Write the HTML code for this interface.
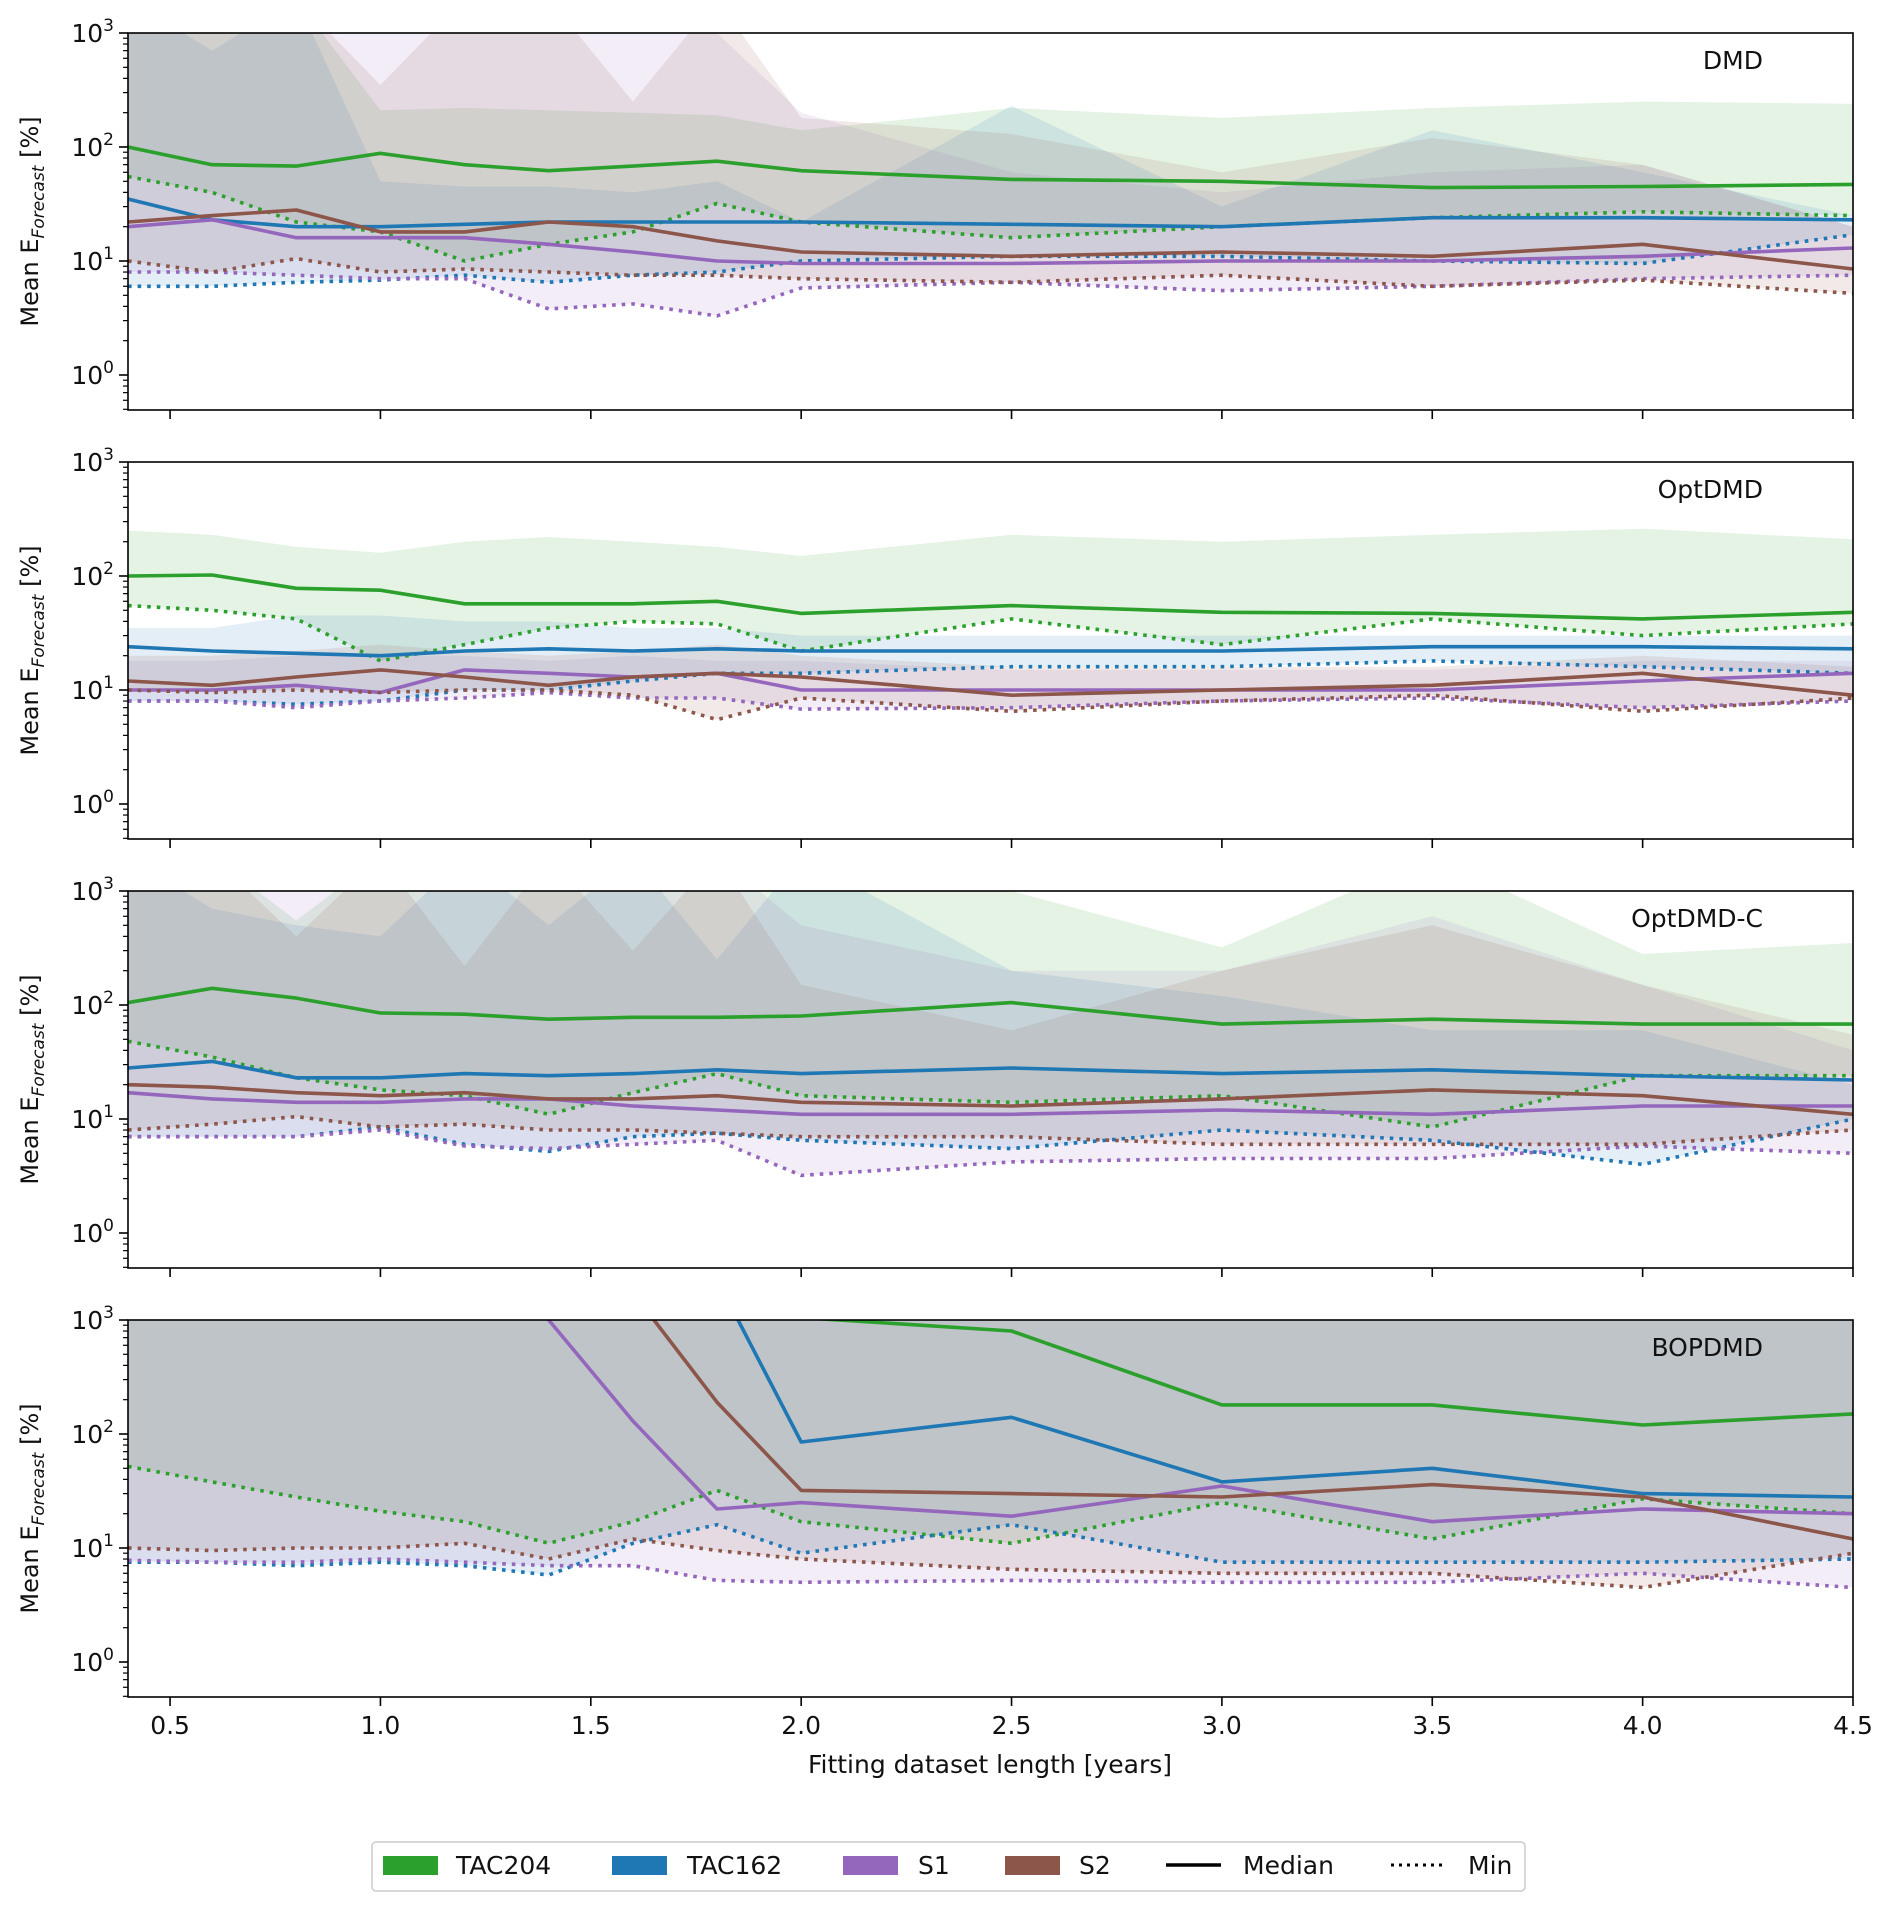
<!DOCTYPE html>
<html><head><meta charset="utf-8">
<style>
html,body{margin:0;padding:0;background:#fff;}
svg{display:block;font-family:"DejaVu Sans","Liberation Sans",sans-serif;}
</style></head>
<body>
<svg id="chart" width="1892" height="1922" viewBox="0 0 1892 1922" xmlns="http://www.w3.org/2000/svg"></svg>
<script>
const xValues = [0.4,0.6,0.8,1.0,1.2,1.4,1.6,1.8,2.0,2.5,3.0,3.5,4.0,4.5];
const xTicks = [0.5,1.0,1.5,2.0,2.5,3.0,3.5,4.0,4.5];
const xTickLabels = ["0.5","1.0","1.5","2.0","2.5","3.0","3.5","4.0","4.5"];
const yTickExps = [0,1,2,3];
const panelNames = ["DMD","OptDMD","OptDMD-C","BOPDMD"];
const seriesNames = ["TAC204","TAC162","S1","S2"];
const seriesColors = ["#2ca02c","#1f77b4","#9467bd","#8c564b"];

// DMD
const dmdMedian = [
 [100,70,68,88,70,62,68,75,62,52,50,44,45,47],
 [35,23,20,20,21,22,22,22,22,21,20,24,24,23],
 [20,23,16,16,16,14,12,10,9.5,9.5,10,10,11,13],
 [22,25,28,18,18,22,20,15,12,11,12,11,14,8.5]];
const dmdMin = [
 [55,40,22,18,10,14,18,32,22,16,20,24,27,25],
 [6,6,6.5,6.8,7.5,6.5,7.5,8,10,11,11,10,9.5,17],
 [8,8,7.5,7,7,3.8,4.2,3.3,5.8,6.5,5.5,6,7,7.5],
 [10,8,10.5,8,8.5,8,7.5,7.5,7,6.5,7.5,6,6.8,5.2]];
const dmdMax = [
 [2000,2000,2000,210,220,210,200,190,140,220,180,220,250,240],
 [2000,700,2000,50,45,45,40,50,22,230,30,140,60,25],
 [2000,2000,2000,2000,2000,2000,2000,1000,200,60,40,60,70,20],
 [2000,2000,2000,350,2000,2000,250,2000,180,130,60,120,70,20]];
// OptDMD
const optMedian = [
 [100,102,78,75,57,57,57,60,47,55,48,47,42,48],
 [24,22,21,20,22,23,22,23,22,22,22,24,24,23],
 [10,10,11,9.5,15,14,13,14,10,10,10,10,12,14],
 [12,11,13,15,13,11,13,14,13,9,10,11,14,9]];
const optMin = [
 [55,50,42,18,25,35,40,38,22,42,25,42,30,38],
 [8,8,7.5,8,10,10,12,14,14,16,16,18,16,14],
 [8,8,7,8,8.5,9.5,8.5,8.5,6.8,7,8,8.5,7,8],
 [10,9.5,10,9.5,10,10,9,5.5,8.5,6.5,8,9,6.5,8.5]];
const optMax = [
 [250,230,180,160,200,220,200,180,150,230,200,230,260,210],
 [35,35,45,45,40,40,35,35,30,30,30,30,30,30],
 [18,18,20,20,20,18,20,18,18,15,15,15,18,18],
 [20,20,22,25,22,20,22,25,20,16,16,16,20,16]];
// OptDMD-C
const optcMedian = [
 [105,140,115,85,83,75,78,78,80,105,68,75,68,68],
 [28,32,23,23,25,24,25,27,25,28,25,27,24,22],
 [17,15,14,14,15,15,13,12,11,11,12,11,13,13],
 [20,19,17,16,17,15,15,16,14,13,15,18,16,11]];
const optcMin = [
 [48,35,23,18,16,11,17,25,16,14,16,8.5,24,24],
 [7,7,7,8.5,6,5.2,7,7.5,6.5,5.5,8,6.5,4,10],
 [7,7,7,8,5.8,5.5,6,6.5,3.2,4.2,4.5,4.5,5.8,5],
 [8,9,10.5,8.5,9,8,8,7.5,7,7,6,6,6,8]];
const optcMax = [
 [2000,2000,550,2000,2000,2000,2000,2000,1000,1000,320,2000,280,350],
 [2000,700,500,400,2000,500,2000,250,2000,200,120,60,60,20],
 [2000,2000,2000,2000,2000,2000,2000,2000,500,200,200,600,150,40],
 [2000,2000,400,2000,220,2000,300,2000,150,60,200,500,150,55]];
// BOPDMD
const bopMedian = [
 [5000,5000,5000,5000,5000,5000,5000,5000,1050,800,180,180,120,150],
 [5000,5000,5000,5000,5000,5000,5000,2270,85,140,38,50,30,28],
 [5000,5000,5000,5000,5000,1000,130,22,25,19,35,17,22,20],
 [5000,5000,5000,5000,5000,5000,1740,190,32,30,28,36,28,12]];
const bopMin = [
 [52,38,28,21,17,11,17,32,17,11,25,12,27,20],
 [7.5,7.5,7,7.5,7,5.8,11,16,9,16,7.5,7.5,7.5,8],
 [7.8,7.5,7.5,8,7.5,7,7,5.2,5,5.2,5,5,6,4.5],
 [10,9.5,10,10,11,8,12,9.5,8,6.5,6,6,4.5,9]];
const bopMax = [
 [5000,5000,5000,5000,5000,5000,5000,5000,5000,5000,5000,5000,5000,5000],
 [5000,5000,5000,5000,5000,5000,5000,5000,5000,5000,5000,5000,5000,5000],
 [5000,5000,5000,5000,5000,5000,5000,5000,5000,5000,5000,5000,5000,5000],
 [5000,5000,5000,5000,5000,5000,5000,5000,5000,5000,5000,5000,5000,5000]];

const panelMedians = [dmdMedian, optMedian, optcMedian, bopMedian];
const panelMins = [dmdMin, optMin, optcMin, bopMin];
const panelMaxs = [dmdMax, optMax, optcMax, bopMax];

const NS = "http://www.w3.org/2000/svg";
const svg = document.getElementById("chart");
const L = 128, R = 1853, PH = 377, DEC = 114;
const panelTops = [33, 462, 891, 1320];
const xMin = 0.4, xMax = 4.5;
function xs(v){ return L + (v - xMin) / (xMax - xMin) * (R - L); }
function ys(v, top){ return top + (3 - Math.log10(v)) * DEC; }
function mk(tag, attrs, parent){
  const e = document.createElementNS(NS, tag);
  for (const k in attrs) e.setAttribute(k, attrs[k]);
  (parent || svg).appendChild(e);
  return e;
}

panelTops.forEach((top, p) => {
  const g = mk("g", {});
  
  
  const clipId = "clip" + p;
  const cp = mk("clipPath", {id: clipId}, g);
  mk("rect", {x: L, y: top, width: R - L, height: PH}, cp);
  const plot = mk("g", {"clip-path": "url(#" + clipId + ")"}, g);
  for (let s = 0; s < 4; s++) {
    let d = "";
    xValues.forEach((x, i) => { d += (i ? "L" : "M") + xs(x).toFixed(1) + "," + ys(panelMaxs[p][s][i], top).toFixed(1); });
    for (let i = xValues.length - 1; i >= 0; i--) d += "L" + xs(xValues[i]).toFixed(1) + "," + ys(panelMins[p][s][i], top).toFixed(1);
    const band = mk("path", {d: d + "Z", fill: seriesColors[s], "fill-opacity": 0.12, stroke: "none"}, plot);
    
    
  }
  for (let s = 0; s < 4; s++) {
    const mline = (arr) => xValues.map((x, i) => xs(x).toFixed(1) + "," + ys(arr[i], top).toFixed(1)).join(" ");
    const med = mk("polyline", {points: mline(panelMedians[p][s]), fill: "none", stroke: seriesColors[s], "stroke-width": 3.6, "stroke-linejoin": "round"}, plot);
    
    
    const mn = mk("polyline", {points: mline(panelMins[p][s]), fill: "none", stroke: seriesColors[s], "stroke-width": 3.6, "stroke-dasharray": "3.6 6"}, plot);
    
    
  }
  mk("rect", {x: L, y: top, width: R - L, height: PH, fill: "none", stroke: "#000", "stroke-width": 1.6}, g);
  yTickExps.forEach(e => {
    const y = ys(Math.pow(10, e), top);
    mk("line", {x1: L - 9, x2: L, y1: y, y2: y, stroke: "#000", "stroke-width": 1.6}, g);
    const t = mk("text", {x: L - 14, y: y + 9, "text-anchor": "end", "font-size": 25, fill: "#111"}, g);
    
    
    t.textContent = "10";
    const sup = mk("tspan", {dy: -11, "font-size": 17}, t);
    sup.textContent = String(e);
  });
  for (let e = -1; e < 3; e++) for (let m = 2; m <= 9; m++) {
    const v = m * Math.pow(10, e);
    const y = ys(v, top);
    if (y > top + PH || y < top) continue;
    mk("line", {x1: L - 5, x2: L, y1: y, y2: y, stroke: "#000", "stroke-width": 1.2}, g);
  }
  xTicks.forEach((v, i) => {
    const x = xs(v);
    mk("line", {x1: x, x2: x, y1: top + PH, y2: top + PH + 9, stroke: "#000", "stroke-width": 1.6}, g);
    if (p === 3) {
      const t = mk("text", {x: x, y: top + PH + 37, "text-anchor": "middle", "font-size": 25, fill: "#111"}, g);
      
      
      t.textContent = xTickLabels[i];
    }
  });
  const pt = mk("text", {x: 1763, y: top + 36, "text-anchor": "end", "font-size": 25, fill: "#111"}, g);
  
  
  pt.textContent = panelNames[p];
  const cy = top + PH / 2;
  const yl = mk("text", {x: 0, y: 0, transform: "translate(38," + cy + ") rotate(-90)", "text-anchor": "middle", "font-size": 24, fill: "#111"}, g);
  
  
  yl.textContent = "Mean E";
  const sub = mk("tspan", {dy: 6, "font-size": 17, "font-style": "italic"}, yl);
  sub.textContent = "Forecast";
  const rest = mk("tspan", {dy: -6}, yl);
  rest.textContent = " [%]";
});

const xt = mk("text", {x: 990, y: 1773, "text-anchor": "middle", "font-size": 25, fill: "#111"});


xt.textContent = "Fitting dataset length [years]";

const lg = mk("g", {});


mk("rect", {x: 372, y: 1842, width: 1153, height: 49, rx: 4, fill: "#fff", stroke: "#ccc", "stroke-width": 1.5}, lg);
const patchX = [383, 612, 843, 1005];
const textX = [456, 687, 918, 1079];
seriesNames.forEach((n, s) => {
  const r = mk("rect", {x: patchX[s], y: 1856, width: 55, height: 19, fill: seriesColors[s]}, lg);
  
  
  const t = mk("text", {x: textX[s], y: 1874, "font-size": 25, fill: "#111"}, lg);
  
  
  t.textContent = n;
});
mk("line", {x1: 1166, x2: 1221, y1: 1865, y2: 1865, stroke: "#000", "stroke-width": 3.6}, lg);
const tm = mk("text", {x: 1243, y: 1874, "font-size": 25, fill: "#111"}, lg);


tm.textContent = "Median";
mk("line", {x1: 1391, x2: 1445, y1: 1865, y2: 1865, stroke: "#000", "stroke-width": 3, "stroke-dasharray": "3 5"}, lg);
const tn = mk("text", {x: 1468, y: 1874, "font-size": 25, fill: "#111"}, lg);


tn.textContent = "Min";
</script>
</body></html>
